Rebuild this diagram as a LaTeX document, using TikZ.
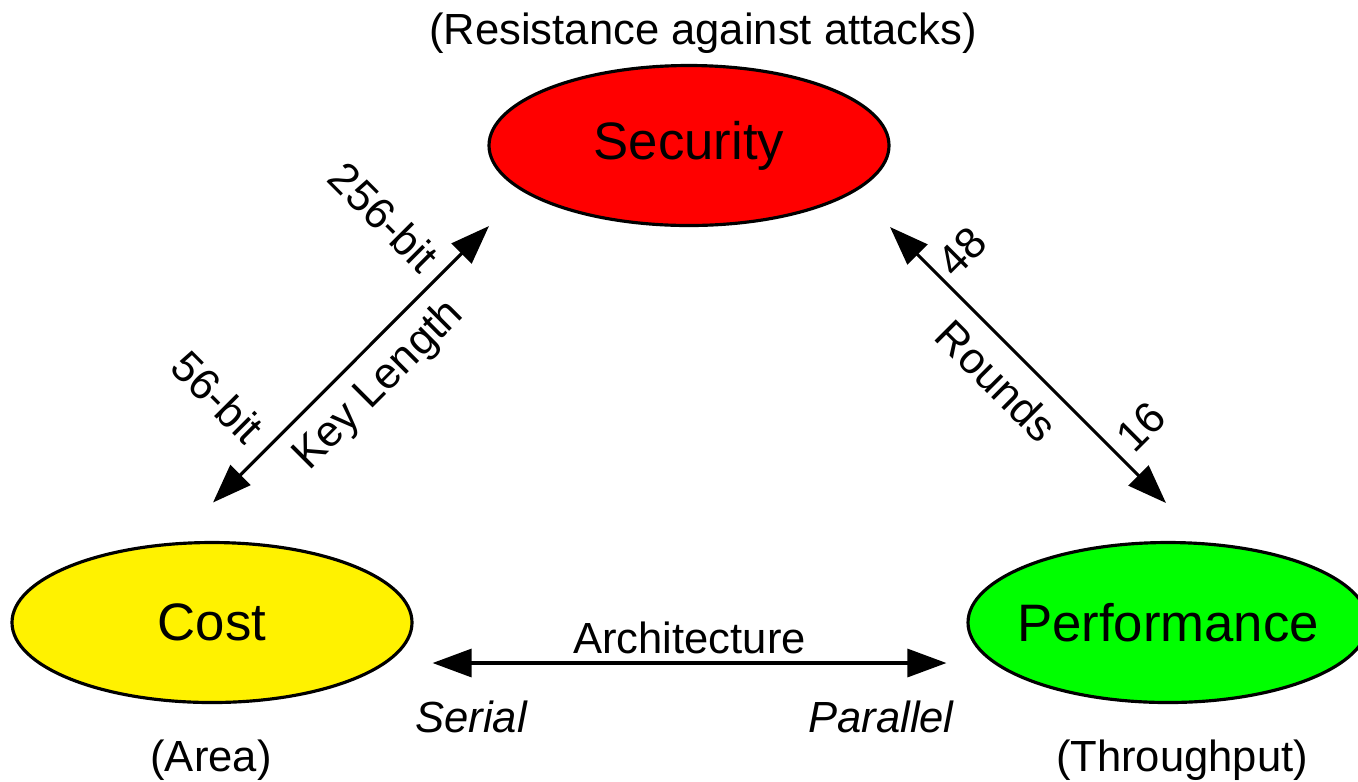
\documentclass[tikz,border=0pt]{standalone}
\usepackage{fontspec}
\setmainfont{Liberation Sans}
\usetikzlibrary{shapes.geometric,arrows.meta}

\newcommand{\bigtxt}{\fontsize{15}{18}\selectfont}
\newcommand{\smalltxt}{\fontsize{12.4}{15}\selectfont}

\begin{document}
\begin{tikzpicture}[font=\smalltxt,
blob/.style={ellipse,draw,line width=0.9pt,minimum width=4cm,minimum height=1.6cm,inner sep=0pt},
twoway/.style={line width=0.9pt,{Triangle[length=3.9mm,width=2.8mm]}-{Triangle[length=3.9mm,width=2.8mm]}}]
\useasboundingbox (0,0) rectangle (13.58,7.81);
% the three goals
\node[blob,fill=red,label={[font=\bigtxt]center:Security}] (security) at (6.89,6.355) {};
\node[blob,fill=yellow,label={[font=\bigtxt]center:Cost}] (cost) at (2.12,1.585) {};
\node[blob,fill=green,label={[font=\bigtxt]center:Performance}] (perf) at (11.68,1.585) {};
% what they mean
\node (resist) at (7.03,7.48) {(Resistance against attacks)};
\node (area) at (2.11,0.21) {(Area)};
\node (thru) at (11.82,0.21) {(Throughput)};
% arrow ends
\coordinate (klA) at ([shift={(0.01,1.2)}]cost.center);
\coordinate (klB) at ([shift={(-2.0,-0.805)}]security.center);
\coordinate (rdA) at ([shift={(2.01,-0.815)}]security.center);
\coordinate (rdB) at ([shift={(-0.02,1.195)}]perf.center);
\coordinate (arA) at ([shift={(0.19,-0.405)}]cost.east);
\coordinate (arB) at ([shift={(-0.2,-0.405)}]perf.west);
% trade-offs
\draw[twoway] (klA)--(klB);
\draw[twoway] (rdA)--(rdB);
\draw[twoway] (arA)--(arB);
\node[rotate=-45] (b256) at (3.84,5.64) {256-bit};
\node[rotate=-45] (b56) at (2.18,3.84) {56-bit};
\node[rotate=45] (keylen) at (3.79,3.95) {Key Length};
\node[rotate=45] (r48) at (9.62,5.29) {48};
\node[rotate=45] (r16) at (11.41,3.54) {16};
\node[rotate=-45] (rounds) at (9.97,4.0) {Rounds};
\node (arch) at (6.895,1.43) {Architecture};
\node[font=\smalltxt\itshape] (serial) at (4.71,0.64) {Serial};
\node[font=\smalltxt\itshape] (para) at (8.81,0.64) {Parallel};
\end{tikzpicture}
\end{document}
